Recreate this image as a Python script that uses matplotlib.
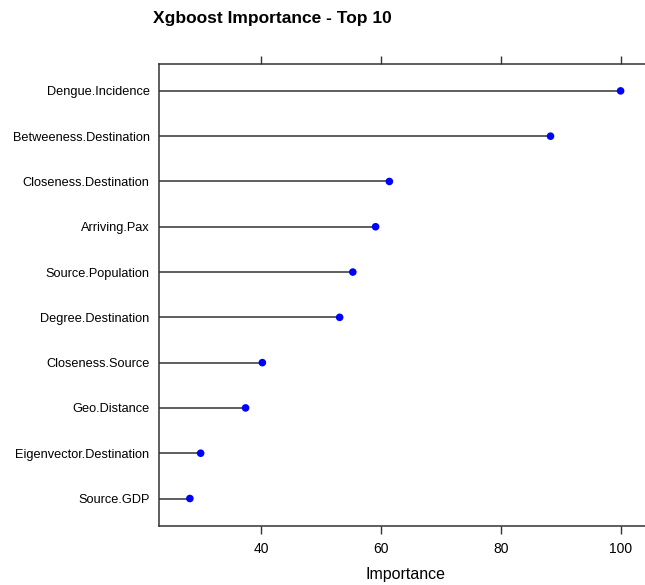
import matplotlib.pyplot as plt

# Feature importance values, top to bottom as shown
features = ["Dengue.Incidence", "Betweeness.Destination", "Closeness.Destination",
            "Arriving.Pax", "Source.Population", "Degree.Destination",
            "Closeness.Source", "Geo.Distance", "Eigenvector.Destination", "Source.GDP"]
importance = [100.0, 88.3, 61.4, 59.1, 55.3, 53.1, 40.2, 37.4, 29.9, 28.1]
xticks = [40, 60, 80, 100]

plt.rcParams['font.family'] = ['Liberation Sans', 'DejaVu Sans']

fig = plt.figure(figsize=(6.45, 5.85), dpi=100)
ax = fig.add_axes([0.247, 0.1014, 0.762, 0.7897])

ypos = list(range(len(features), 0, -1))
xmin = 23.0
ax.hlines(ypos, xmin, importance, color='#333333', lw=1.1, zorder=2)
ax.scatter(importance, ypos, s=30, color='blue', zorder=3, edgecolors='none')

ax.set_xlim(xmin, 105.04)
ax.set_ylim(0.4, 10.6)
ax.set_yticks(ypos)
ax.set_yticklabels(features, fontsize=9.2)
ax.tick_params(axis='y', length=0, pad=7)
ax.set_xticks(xticks)
ax.tick_params(axis='x', which='both', top=True, labeltop=False, direction='out',
               length=6, width=1, labelsize=10, pad=6, color='#333333')
for s in ax.spines.values():
    s.set_color('#333333')
    s.set_linewidth(1.1)
ax.set_xlabel("Importance", fontsize=11.5, labelpad=8)

fig.text(0.422, 0.969, "Xgboost Importance - Top 10", fontsize=12.5, fontweight='bold',
         ha='center', va='center')

fig.savefig("out.png", dpi=100)
